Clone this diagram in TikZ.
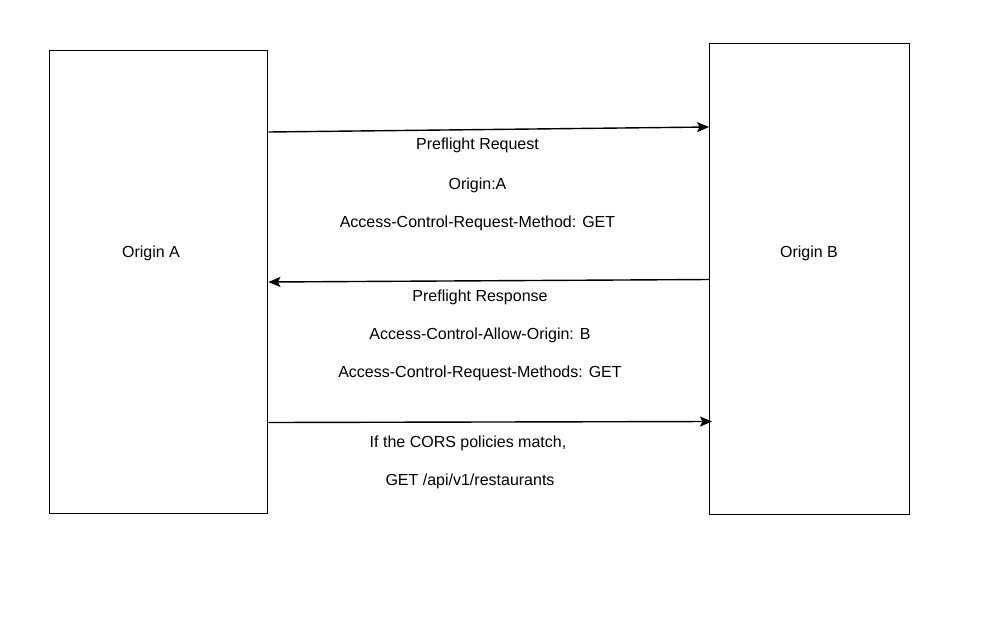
\documentclass[tikz,border=0pt]{standalone}
\usepackage{fontspec}
\setmainfont{Liberation Sans}
\usetikzlibrary{arrows.meta,calc}
\begin{document}
\begin{tikzpicture}[x=1pt,y=-1pt,
  box/.style={draw=black,line width=1.4pt,minimum width=#1,inner sep=0pt,anchor=north west},
  msg/.style={draw=black,line width=1.4pt,-{Stealth[length=12pt,width=10pt,inset=2.5pt]}},
  txt/.style={font=\fontsize{16}{19}\selectfont,inner sep=0pt,anchor=center}]
\useasboundingbox[fill=white] (0,0) rectangle (982,616);
\node[box=218pt,minimum height=463pt] (A) at (49,50) {};
\node[box=200pt,minimum height=471pt] (B) at (709,43) {};
\node[txt] (la) at (151,253) {Origin A};
\node[txt] (lb) at (809,253) {Origin B};
\coordinate (a1) at (A.north east |- 0,132);
\coordinate (b1) at (B.north west |- 0,127);
\coordinate (b2) at (B.north west |- 0,279.5);
\coordinate (a2) at (A.north east |- 0,282);
\coordinate (a3) at (A.north east |- 0,422.5);
\coordinate (b3) at ($(B.north west |- 0,421.5)+(3,0)$);
\draw[msg] (a1) -- (b1);
\draw[msg] (b2) -- (a2);
\draw[msg] (a3) -- (b3);
\node[txt] (t1) at (477.5,145) {Preflight Request};
\node[txt] (t2) at (477.5,185) {Origin:A};
\node[txt] (t3) at (477.5,223) {Access-Control-Request-Method: GET};
\node[txt] (t4) at (480,297.5) {Preflight Response};
\node[txt] (t5) at (480,335.5) {Access-Control-Allow-Origin: B};
\node[txt] (t6) at (480,373.5) {Access-Control-Request-Methods: GET};
\node[txt] (t7) at (468,443.5) {If the CORS policies match,};
\node[txt] (t8) at (470,481.5) {GET /api/v1/restaurants};
\end{tikzpicture}
\end{document}
